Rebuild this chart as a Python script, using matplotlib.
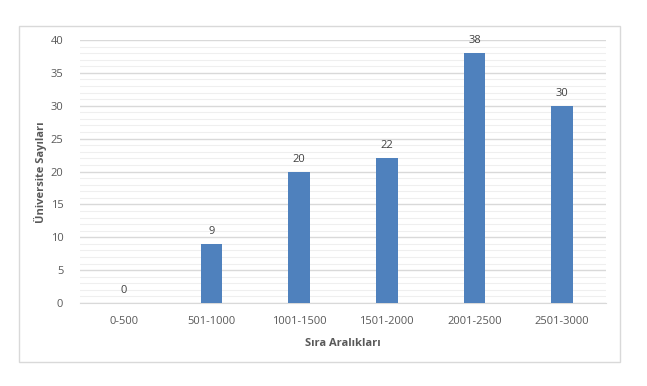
import matplotlib
matplotlib.use("Agg")
import matplotlib.pyplot as plt
from matplotlib.patches import Rectangle
from matplotlib.ticker import MultipleLocator

categories = ["0-500", "501-1000", "1001-1500", "1501-2000", "2001-2500", "2501-3000"]
counts = [0, 9, 20, 22, 38, 30]

W, H = 647, 386
plt.rcParams["font.family"] = ["Open Sans", "DejaVu Sans"]

fig = plt.figure(figsize=(W / 100, H / 100), dpi=100)
fig.patch.set_facecolor("white")

# outer chart frame
fig.patches.append(Rectangle((19 / W, 1 - 362 / H), (620 - 19) / W, (362 - 26) / H,
                             transform=fig.transFigure, fill=False,
                             edgecolor="#d9d9d9", linewidth=1))

# plot area in pixels: x 80..606, y 40..303
ax = fig.add_axes([80 / W, 1 - 303 / H, (606 - 80) / W, (303 - 40) / H])
x = list(range(len(categories)))
ax.bar(x, counts, width=0.25, color="#4f81bd", zorder=3)

ax.set_xlim(-0.5, len(categories) - 0.5)
ax.set_ylim(0, 40)
ax.yaxis.set_major_locator(MultipleLocator(5))
ax.yaxis.set_minor_locator(MultipleLocator(1))
ax.grid(axis="y", which="major", color="#d9d9d9", linewidth=1, zorder=0)
ax.grid(axis="y", which="minor", color="#efefef", linewidth=0.8, zorder=0)

for s in ["top", "right", "left"]:
    ax.spines[s].set_visible(False)
ax.spines["bottom"].set_color("#d9d9d9")
ax.set_xticks(x)
ax.set_xticklabels(categories)
ax.tick_params(axis="both", which="both", length=0, labelsize=8, colors="#595959")
ax.tick_params(axis="x", pad=9)
ax.tick_params(axis="y", pad=12)

for xi, v in zip(x, counts):
    ax.annotate(str(v), (xi, v), xytext=(0, 5), textcoords="offset points",
                ha="center", va="bottom", fontsize=8, color="#404040")

fig.text(343 / W, 1 - 344 / H, "Sıra Aralıkları", ha="center", va="center",
         fontsize=8, fontweight="bold", color="#595959")
fig.text(40 / W, 1 - 172 / H, "Üniversite Sayıları", ha="center", va="center",
         rotation=90, fontsize=8, fontweight="bold", color="#595959")

fig.savefig("out.png", dpi=100)
